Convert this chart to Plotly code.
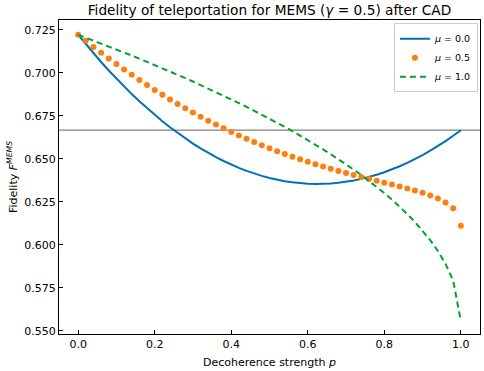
import plotly.graph_objects as go

p_values = [round(i * 0.02, 2) for i in range(51)]

fid_mu00 = [0.72222, 0.71676, 0.71147, 0.70636, 0.70142, 0.69667, 0.69209, 0.68769, 0.68347, 0.67942,
            0.67556, 0.67187, 0.66836, 0.66502, 0.66187, 0.65889, 0.65609, 0.65347, 0.65102, 0.64876,
            0.64667, 0.64476, 0.64302, 0.64147, 0.64009, 0.63889, 0.63787, 0.63702, 0.63636, 0.63587,
            0.63556, 0.63542, 0.63547, 0.63569, 0.63609, 0.63667, 0.63742, 0.63836, 0.63947, 0.64076,
            0.64222, 0.64387, 0.64569, 0.64769, 0.64987, 0.65222, 0.65476, 0.65747, 0.66036, 0.66342,
            0.66667]

fid_mu05 = [0.72222, 0.71866, 0.71516, 0.71176, 0.70842, 0.70517, 0.70200, 0.69891, 0.69589, 0.69295,
            0.69010, 0.68731, 0.68461, 0.68198, 0.67943, 0.67695, 0.67454, 0.67222, 0.66996, 0.66778,
            0.66566, 0.66363, 0.66165, 0.65975, 0.65792, 0.65615, 0.65445, 0.65281, 0.65124, 0.64972,
            0.64826, 0.64686, 0.64552, 0.64422, 0.64297, 0.64176, 0.64059, 0.63945, 0.63834, 0.63725,
            0.63616, 0.63507, 0.63396, 0.63281, 0.63158, 0.63024, 0.62873, 0.62693, 0.62463, 0.62128,
            0.61112]

fid_mu10 = [0.72222, 0.72055, 0.71885, 0.71715, 0.71542, 0.71367, 0.71190, 0.71012, 0.70831, 0.70648,
            0.70463, 0.70275, 0.70085, 0.69893, 0.69698, 0.69500, 0.69299, 0.69096, 0.68889, 0.68679,
            0.68465, 0.68249, 0.68028, 0.67803, 0.67574, 0.67341, 0.67103, 0.66860, 0.66611, 0.66357,
            0.66096, 0.65830, 0.65556, 0.65274, 0.64984, 0.64684, 0.64375, 0.64054, 0.63721, 0.63373,
            0.63009, 0.62627, 0.62222, 0.61792, 0.61329, 0.60826, 0.60270, 0.59638, 0.58889, 0.57913,
            0.55556]

classical_limit = 2 / 3

x_ticks = [0.0, 0.2, 0.4, 0.6, 0.8, 1.0]
y_ticks = [0.550, 0.575, 0.600, 0.625, 0.650, 0.675, 0.700, 0.725]

FONT = "DejaVu Sans"

fig = go.Figure()
fig.add_trace(go.Scatter(x=p_values, y=fid_mu00, mode="lines", name="<i>μ</i> = 0.0",
                         line=dict(color="#0072B2", width=2)))
fig.add_trace(go.Scatter(x=p_values, y=fid_mu05, mode="markers", name="<i>μ</i> = 0.5",
                         marker=dict(color="#FF7F0E", size=6)))
fig.add_trace(go.Scatter(x=p_values, y=fid_mu10, mode="lines", name="<i>μ</i> = 1.0",
                         line=dict(color="#00A32E", width=2, dash="6px,4px")))

fig.add_shape(type="line", xref="paper", x0=0, x1=1, yref="y", y0=classical_limit, y1=classical_limit,
              line=dict(color="#808080", width=1.2), layer="below")

fig.update_layout(
    width=484, height=371,
    margin=dict(l=59, r=4, t=20, b=37),
    paper_bgcolor="white", plot_bgcolor="white",
    font=dict(family=FONT, size=11, color="black"),
    title=dict(text="Fidelity of teleportation for MEMS (<i>γ</i> = 0.5) after CAD",
               x=0.5, xref="paper", xanchor="center", y=0.985, yref="container", yanchor="top",
               font=dict(size=13.7)),
    showlegend=True,
    legend=dict(x=0.995, xanchor="right", y=0.99, yanchor="top",
                bordercolor="#cccccc", borderwidth=1, bgcolor="rgba(255,255,255,0.8)",
                font=dict(size=9.5), tracegroupgap=0, itemwidth=30),
)

fig.update_xaxes(range=[-0.05, 1.05], tickvals=x_ticks, ticktext=[f"{v:.1f}" for v in x_ticks],
                 ticks="inside", ticklen=4, tickcolor="black", showgrid=False, zeroline=False,
                 showline=True, linecolor="black", linewidth=1, mirror=True,
                 title=dict(text="Decoherence strength <i>p</i>", standoff=8, font=dict(size=11)))
fig.update_yaxes(range=[0.5481, 0.7308], tickvals=y_ticks, ticktext=[f"{v:.3f}" for v in y_ticks],
                 ticks="inside", ticklen=4, tickcolor="black", showgrid=False, zeroline=False,
                 showline=True, linecolor="black", linewidth=1, mirror=True,
                 title=dict(text="Fidelity <i>F</i><sup><i>MEMS</i></sup>", standoff=4, font=dict(size=11)))

fig.write_html("out.html", config={"displayModeBar": False},
               post_script="document.body.style.margin='0px';document.body.style.padding='0px';")
